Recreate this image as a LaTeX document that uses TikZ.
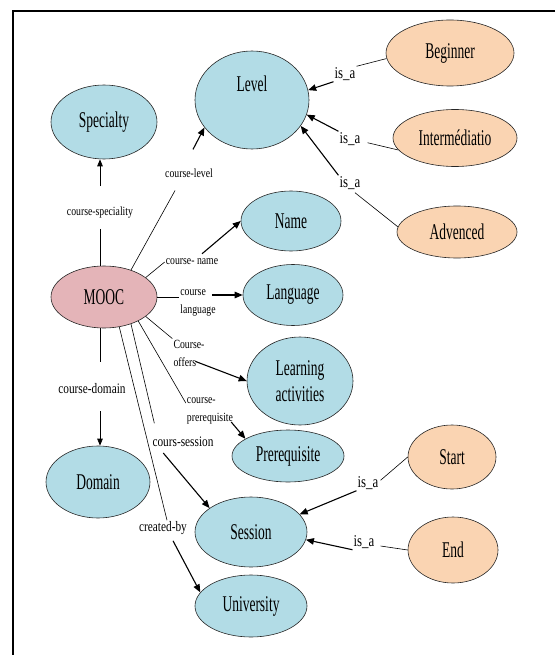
\documentclass[tikz,border=0pt]{standalone}
\usepackage{fontspec}
\setmainfont{Liberation Serif}
\newfontfamily\ovalfont[FakeStretch=0.6]{Liberation Serif}
\newfontfamily\linkfont[FakeStretch=0.78]{Liberation Serif}
\usetikzlibrary{arrows.meta}
\usetikzlibrary{shapes.geometric}

\definecolor{classblue}{RGB}{178,220,230}
\definecolor{instpeach}{RGB}{250,212,178}
\definecolor{moocpink}{RGB}{228,180,184}

\begin{document}
\begin{tikzpicture}[x=1pt,y=-1pt]
  \tikzset{basicoval/.style={ellipse,draw=black!85,line width=0.6pt,inner sep=0pt,
             minimum width=#1,font=\ovalfont\fontsize{22.5}{26}\selectfont},
           classoval/.style={basicoval=#1,fill=classblue},
           instoval/.style={basicoval=#1,fill=instpeach},
           rootoval/.style={basicoval=#1,fill=moocpink},
           linklabel/.style={inner sep=1pt,align=left,font=\linkfont\fontsize{12.5}{18}\selectfont},
           widelabel/.style={inner sep=1pt,font=\linkfont\fontsize{14.5}{16}\selectfont},
           isalabel/.style={inner sep=1pt,font=\linkfont\fontsize{16.5}{18}\selectfont},
           relline/.style={line width=0.6pt},
           relarrow/.style={-{Triangle[length=8pt,width=6.5pt]},line width=1.1pt},
           thinarrow/.style={-{Triangle[length=7pt,width=5.5pt]},line width=0.7pt}}
  \useasboundingbox (0,0) rectangle (555,655);
  \draw[line width=2pt] (555,11) -- (13,11) -- (13,655);

  \node[rootoval=106pt,minimum height=62pt] (mooc) at (104,297) {MOOC};
  \node[classoval=106pt,minimum height=74pt] (specialty) at (104,122) {Specialty};
  \node[classoval=114pt,minimum height=98pt] (level) at (252,100) {\raisebox{8pt}[0pt][0pt]{Level}};
  \node[classoval=100pt,minimum height=60pt] (name) at (291,221) {Name};
  \node[classoval=100pt,minimum height=61pt] (language) at (293,295) {Language};
  \node[classoval=106pt,minimum height=88pt,align=center] (learning) at (300,381) {Learning\\activities};
  \node[classoval=112pt,minimum height=52pt] (prereq) at (288,456) {Prerequisite};
  \node[classoval=104pt,minimum height=72pt] (domain) at (98,482) {Domain};
  \node[classoval=112pt,minimum height=70pt] (session) at (251,532) {Session};
  \node[classoval=112pt,minimum height=62pt] (university) at (251,606) {University};
  \node[instoval=128pt,minimum height=66pt] (beginner) at (450,53) {Beginner\hspace{26pt}};
  \node[instoval=124pt,minimum height=57pt] (intermed) at (455,138) {Intermédiatio};
  \node[instoval=120pt,minimum height=52pt] (advenced) at (457,232) {Advenced};
  \node[instoval=88pt,minimum height=64pt] (start) at (452,457) {Start};
  \node[instoval=90pt,minimum height=66pt] (endnode) at (453,550) {End\hspace{12pt}};

  \node[linklabel] (lspec) at (100,213) {course-speciality};
  \node[linklabel] (llevel) at (189,173) {course-level};
  \node[linklabel] (lname) at (192,262) {course- name};
  \node[linklabel] (llang) at (198,303) {course\\language};
  \node[linklabel] (loffers) at (189,353) {Course-\\offers};
  \node[linklabel] (lprereq) at (210,411) {course-\\prerequisite};
  \node[widelabel] (ldomain) at (92,389) {course-domain};
  \node[widelabel] (lsession) at (183,442) {cours-session};
  \node[widelabel] (lcreated) at (163,528) {created-by};
  \node[isalabel] (isabeg) at (345,74) {is\_a};
  \node[isalabel] (isaint) at (350,139) {is\_a};
  \node[isalabel] (isaadv) at (350,183) {is\_a};
  \node[isalabel] (isastart) at (368,483) {is\_a};
  \node[isalabel] (isaend) at (364,542) {is\_a};

  % MOOC relations
  \draw[relline] (lspec.south) ++(0,9) -- (lspec.south |- mooc.north);
  \draw[thinarrow] (lspec.north) ++(0,-20) -- (lspec.north |- specialty.south);
  \draw[relline] (llevel.south) ++(-14,12) -- (mooc.45);
  \draw[relarrow] (llevel.north) ++(4,-18) -- (level.210);
  \draw[relline] (mooc.25) -- (lname.west);
  \draw[relarrow] (lname.north) ++(10,-4) -- (name.west);
  \draw[relline] (mooc.east) -- (llang.west |- mooc.east);
  \draw[relarrow] (llang.east |- language.west) ++(-5,0) -- (language.west);
  \draw[relline] (mooc.-25) -- (loffers.north west);
  \draw[relarrow] (loffers.south west) ++(23,-6) -- (learning.west);
  \draw[relline] (mooc.-35) -- ([yshift=8pt]lprereq.west);
  \draw[relarrow] (lprereq.east) ++(-3,11) -- (prereq.158);
  \draw[relline,shorten >=13pt] (mooc.-45) -- ([xshift=6pt]lsession.north west);
  \draw[relarrow] (lsession.south west) ++(12,5) -- (session.150);
  \draw[relline] (mooc.-63) -- ([xshift=4pt]lcreated.north);
  \draw[relarrow] (lcreated.south) ++(10,5) -- (university.165);
  \draw[relline] (lspec |- mooc.south) -- ++(0,34);
  \draw[thinarrow] (lspec |- ldomain.south) ++(0,16) -- (lspec |- domain.north);

  % is_a links
  \draw[relline] (beginner.185) -- (isabeg.north east);
  \draw[relarrow] (isabeg.south west) -- (level.10);
  \draw[relline] (isaint.south east) ++(6,-4) -- (intermed.192);
  \draw[relarrow] (isaint.north west) -- (level.-15);
  \draw[relline] (isaadv.south) ++(5,2) -- (advenced.175);
  \draw[relarrow] (isaadv.north west) -- (level.-28);
  \draw[relline] (isastart.north east) ++(1,5) -- (start.west);
  \draw[relarrow] (isastart.south west) -- (session.20);
  \draw[relline] (isaend.east) ++(5,4) -- (endnode.west);
  \draw[relarrow] (isaend.south west) -- (session.-8);
\end{tikzpicture}
\end{document}
